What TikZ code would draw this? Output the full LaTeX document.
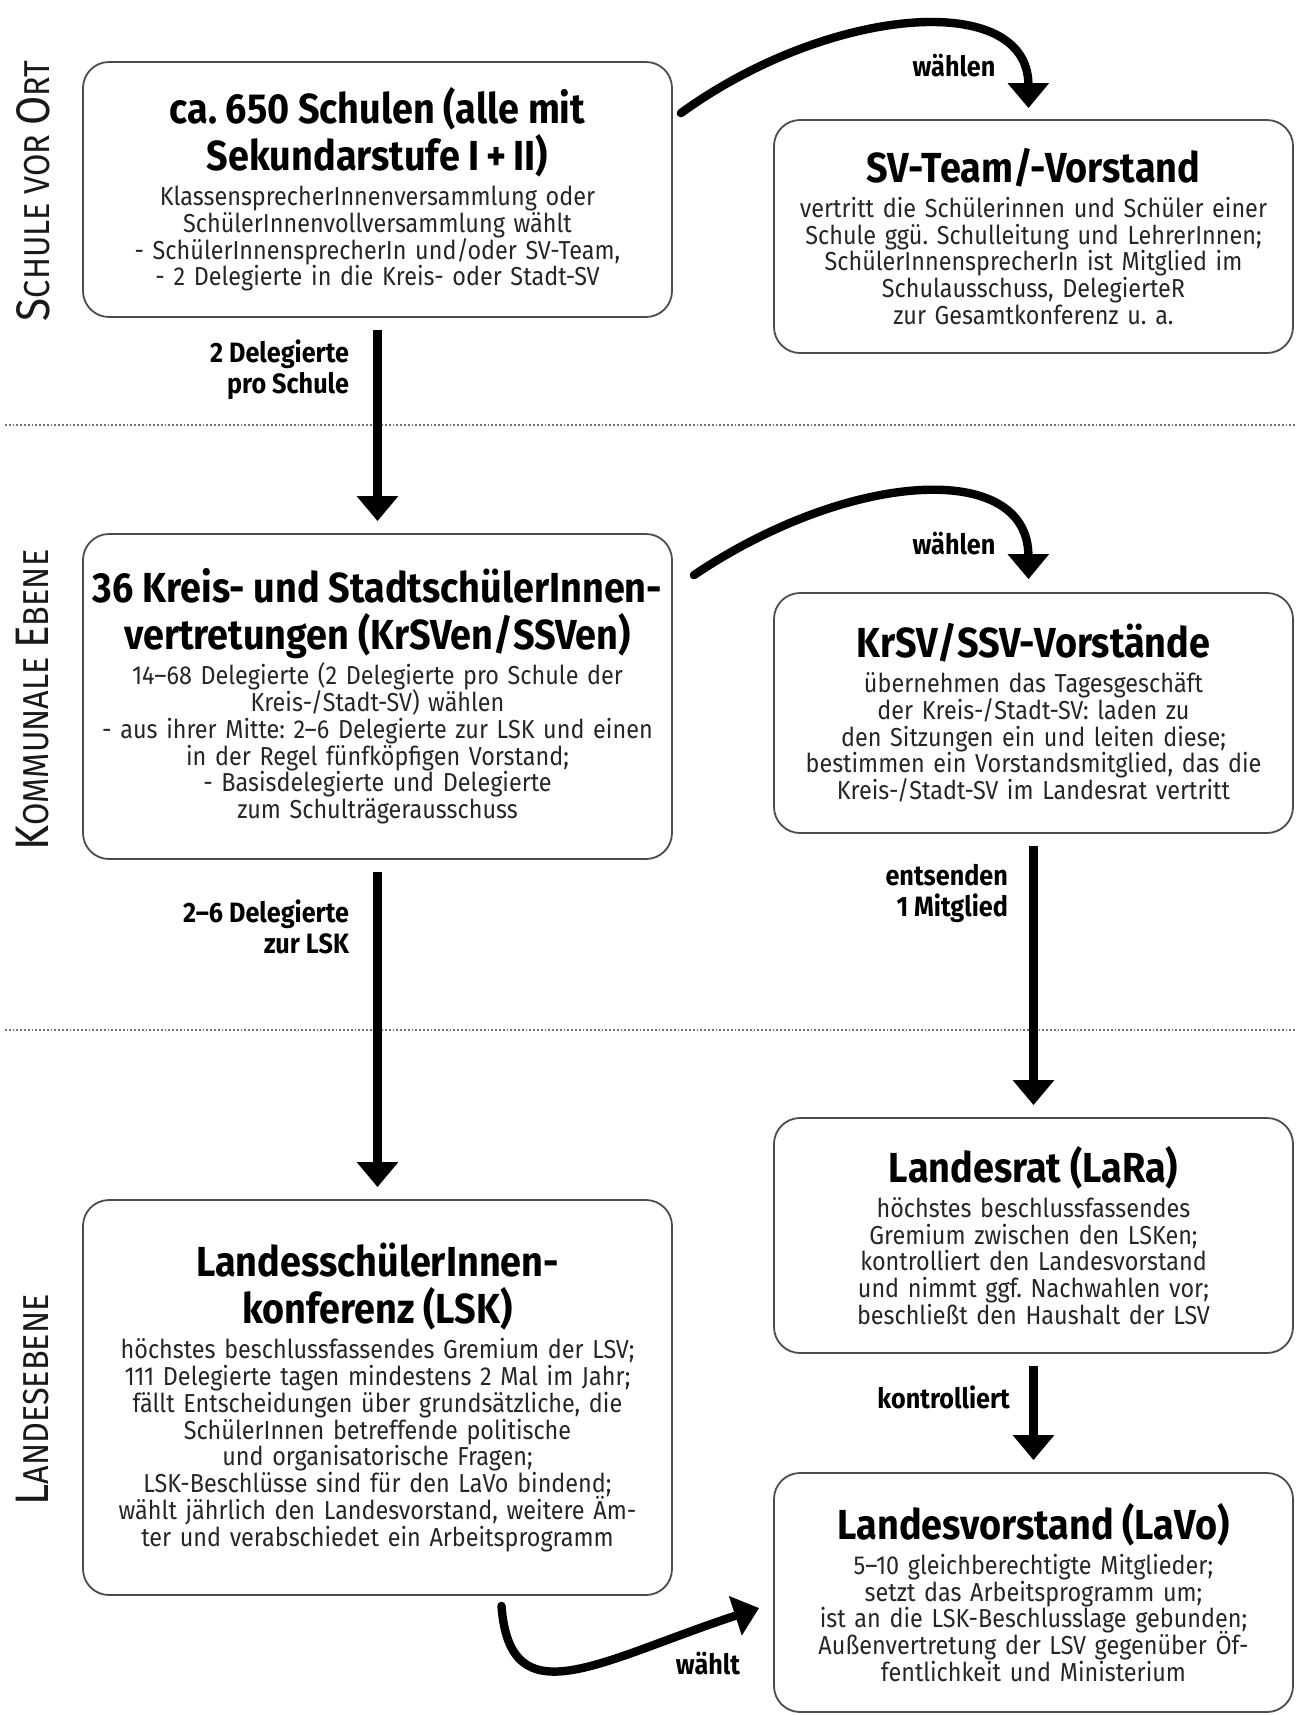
\documentclass[tikz,border=0pt]{standalone}
\usepackage{fontspec}
\setmainfont{Fira Sans}[FakeStretch=0.9]
\usetikzlibrary{arrows.meta,positioning,calc}

\newcommand{\ttl}{\fontsize{21}{23.5}\selectfont\bfseries\color{black}}
\newcommand{\boxtitle}[1]{\lineskiplimit=-10pt\relax{\ttl #1\par}\vspace{4pt}}
\newcommand{\scap}[2]{{\fontsize{23.5}{23.5}\selectfont #1}{\fontsize{18}{18}\selectfont #2}}

\begin{document}
\frenchspacing
\begin{tikzpicture}[
    x=0.5pt, y=-0.5pt,
    font=\fontsize{13}{13.4}\selectfont,
    box/.style={rectangle, draw=black!70, line width=0.9pt,
                rounded corners=13pt, align=center, text=black!85,
                inner sep=4pt},
    lbox/.style={box, text width=286pt, minimum width=294.5pt},
    rbox/.style={box, text width=251pt, minimum width=259.5pt},
    arr/.style={line width=4.5pt, -{Triangle[width=20pt,length=12.5pt]},
                shorten <=6pt, shorten >=6pt},
    swing/.style={line width=4.2pt, line cap=round,
                  -{Triangle[width=20pt,length=12.5pt]}},
    lbl/.style={font=\fontsize{14}{15.5}\selectfont\bfseries, align=right},
    side/.style={rotate=90, text=black!90},
    sep/.style={black!55, line width=0.9pt, densely dotted}
]
\useasboundingbox (0,0) rectangle (1296,1715);

%---- separators between the levels
\draw[sep] (5,425) -- (1296,425);
\draw[sep] (5,1030) -- (1296,1030);

%---- level names
\node[side] (ort)  at (33,191)  {\scap{S}{CHULE VOR }\scap{O}{RT}};
\node[side] (komm) at (33,700)  {\scap{K}{OMMUNALE }\scap{E}{BENE}};
\node[side] (land) at (33,1400) {\scap{L}{ANDESEBENE}};

%---- left column
\node[lbox, minimum height=127.5pt] (schulen) at (377.5,189.5)
  {\boxtitle{ca.~650 Schulen (alle mit\\Sekundarstufe I\,+\,II)}
   KlassensprecherInnenversammlung oder\\
   SchülerInnenvollversammlung wählt\\
   - SchülerInnensprecherIn und/oder SV-Team,\\
   - 2 Delegierte in die Kreis- oder Stadt-SV};

\node[lbox, minimum height=162.5pt] (kreis) at (377.5,696.5)
  {\boxtitle{36 Kreis- und StadtschülerInnen-\\vertretungen (KrSVen/SSVen)}
   14–68 Delegierte (2 Delegierte pro Schule der\\
   Kreis-/Stadt-SV) wählen\\
   - aus ihrer Mitte: 2–6 Delegierte zur LSK und einen\\
   in der Regel fünfköpfigen Vorstand;\\
   - Basisdelegierte und Delegierte\\
   zum Schulträgerausschuss};

\node[lbox, minimum height=197.5pt] (lsk) at (377.5,1397.5)
  {\boxtitle{LandesschülerInnen-\\konferenz (LSK)}
   höchstes beschlussfassendes Gremium der LSV;\\
   111 Delegierte tagen mindestens 2 Mal im Jahr;\\
   fällt Entscheidungen über grundsätzliche, die\\
   SchülerInnen betreffende politische\\
   und organisatorische Fragen;\\
   LSK-Beschlüsse sind für den LaVo bindend;\\
   wählt jährlich den Landesvorstand, weitere Äm-\\
   ter und verabschiedet ein Arbeitsprogramm};

%---- right column
\node[rbox, minimum height=116.5pt] (svteam) at (1033.5,236.5)
  {\boxtitle{SV-Team/-Vorstand}
   vertritt die Schülerinnen und Schüler einer\\
   Schule ggü. Schulleitung und LehrerInnen;\\
   SchülerInnensprecherIn ist Mitglied im\\
   Schulausschuss, DelegierteR\\
   zur Gesamtkonferenz u.~a.};

\node[rbox, minimum height=120pt] (krvorst) at (1033.5,713)
  {\boxtitle{KrSV/SSV-Vorstände}
   übernehmen das Tagesgeschäft\\
   der Kreis-/Stadt-SV: laden zu\\
   den Sitzungen ein und leiten diese;\\
   bestimmen ein Vorstandsmitglied, das die\\
   Kreis-/Stadt-SV im Landesrat vertritt};

\node[rbox, minimum height=117.5pt] (lara) at (1033.5,1235.5)
  {\boxtitle{Landesrat (LaRa)}
   höchstes beschlussfassendes\\
   Gremium zwischen den LSKen;\\
   kontrolliert den Landesvorstand\\
   und nimmt ggf. Nachwahlen vor;\\
   beschließt den Haushalt der LSV};

\node[rbox, minimum height=119.5pt] (lavo) at (1033.5,1592.5)
  {\boxtitle{Landesvorstand (LaVo)}
   5–10 gleichberechtigte Mitglieder;\\
   setzt das Arbeitsprogramm um;\\
   ist an die LSK-Beschlusslage gebunden;\\
   Außenvertretung der LSV gegenüber Öf-\\
   fentlichkeit und Ministerium};

%---- straight arrows
\draw[arr] (schulen) -- (kreis);
\draw[arr] (kreis) -- (lsk);
\draw[arr] (krvorst) -- (lara);
\draw[arr] (lara) -- (lavo);

\node[lbl, anchor=east] (del2)  at (356,370)  {2 Delegierte\\pro Schule};
\node[lbl, anchor=east] (del26) at (356,927)  {2–6 Delegierte\\zur LSK};
\node[lbl, anchor=east] (ents)  at (1015,893) {entsenden\\1 Mitglied};
\node[lbl, anchor=east] (kontr) at (1017,1397) {kontrolliert};

%---- curved arrows
\draw[swing] ($(schulen.north east)+(8,52)$)
  .. controls (830,5) and (1028,-10) .. ($(svteam.north)+(-5,-11)$);
\node[lbl] (waehlen1) at (954,66) {wählen};

\draw[swing] ($(kreis.north east)+(21,42)$)
  .. controls (850,470) and (1028,460) .. ($(krvorst.north)+(-5,-13)$);
\node[lbl] (waehlen2) at (954,544) {wählen};

\draw[swing] ($(lsk.south)+(124,10)$)
  .. controls (510,1720) and (600,1660) .. ($(lavo.west)+(-14,15.5)$);
\node[lbl] (waehlt) at (708,1664) {wählt};
\end{tikzpicture}
\end{document}
